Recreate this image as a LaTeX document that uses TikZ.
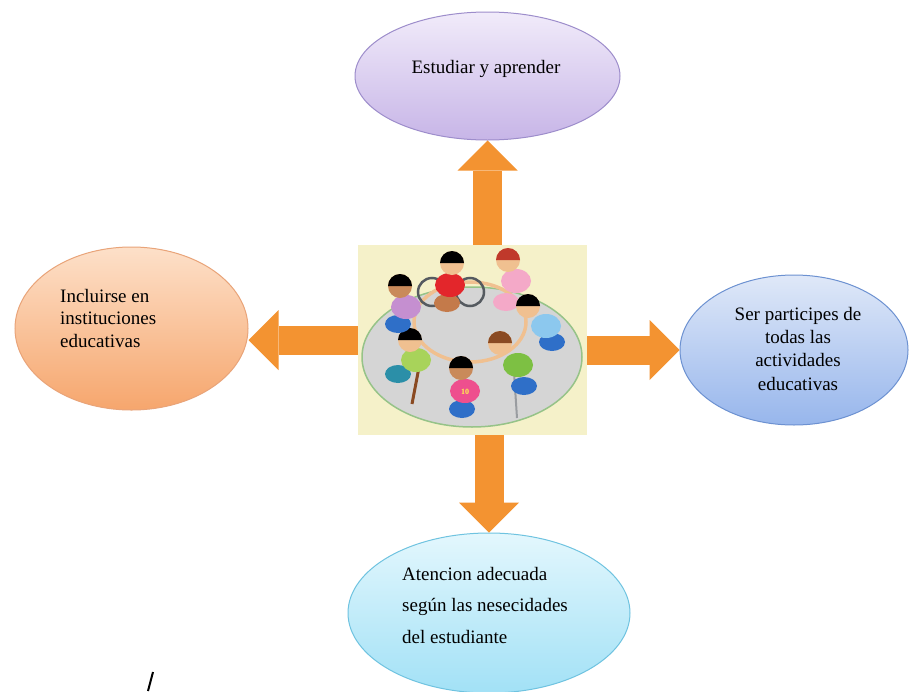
\documentclass[tikz,border=0pt]{standalone}
\usepackage{fontspec}
\setmainfont{Liberation Serif}
\usetikzlibrary{shapes.geometric,arrows.meta,positioning}

\definecolor{purpletop}{HTML}{F1EBFA}
\definecolor{purplebot}{HTML}{C7B5E7}
\definecolor{purpleline}{HTML}{9D8DCB}
\definecolor{peachtop}{HTML}{FDE0C9}
\definecolor{peachbot}{HTML}{F6A66D}
\definecolor{peachline}{HTML}{E9A479}
\definecolor{bluetop}{HTML}{DFE8F8}
\definecolor{bluebot}{HTML}{97B6EC}
\definecolor{blueline}{HTML}{6C91D1}
\definecolor{cyantop}{HTML}{E3F7FD}
\definecolor{cyanbot}{HTML}{A2E1F6}
\definecolor{cyanline}{HTML}{6FC3E0}
\definecolor{arrorange}{HTML}{F39331}
\definecolor{imgyellow}{HTML}{F5F1C9}
\definecolor{ringgrey}{HTML}{D5D5D5}
\definecolor{ringgreen}{HTML}{96C388}
\definecolor{skin}{HTML}{F0C090}
\definecolor{skindark}{HTML}{C98A5A}
\definecolor{chairgrey}{HTML}{555A60}
\definecolor{kidred}{HTML}{E3262B}
\definecolor{kidpink}{HTML}{F4A9C8}
\definecolor{kidpinkb}{HTML}{EE4F8E}
\definecolor{kidlblue}{HTML}{8CC8EE}
\definecolor{kidgreen}{HTML}{7DC043}
\definecolor{kidgreenb}{HTML}{A8D35A}
\definecolor{kidpurple}{HTML}{C58FD0}
\definecolor{kidblue}{HTML}{2F6FC8}
\definecolor{kidteal}{HTML}{2B8FA8}
\definecolor{kidbrownp}{HTML}{C47A4A}
\definecolor{kidbrown}{HTML}{8A4A22}
\definecolor{kidredhair}{HTML}{C0392B}

\tikzset{
  bubble/.style={ellipse, draw, line width=1pt, inner sep=0pt},
  bubbletext/.style={inner sep=0pt, font=\fontsize{19}{22.5}\selectfont},
  bigarrow/.style={draw=arrorange, line width=29pt,
    -{Triangle[width=60pt,length=30pt,line width=0pt]}}
}

\begin{document}
\begin{tikzpicture}[x=1pt,y=-1pt]
  \useasboundingbox (0,0) rectangle (910,691);
  \fill[white] (0,0) rectangle (910,691);
  % Define nodes
  \node[bubble, minimum width=265pt, minimum height=128pt,
        top color=purpletop, bottom color=purplebot, draw=purpleline] (study) at (487.5,76) {};
  \node[bubble, minimum width=233pt, minimum height=163pt,
        top color=peachtop, bottom color=peachbot, draw=peachline] (include) at (131.5,328.5) {};
  \node[bubble, minimum width=228pt, minimum height=150pt,
        top color=bluetop, bottom color=bluebot, draw=blueline] (share) at (794,350) {};
  \node[bubble, minimum width=282pt, minimum height=160pt,
        top color=cyantop, bottom color=cyanbot, draw=cyanline] (care) at (489,613) {};
  \node[bubbletext, anchor=base] (studytxt) at (486,73) {Estudiar y aprender};
  \node[bubbletext, anchor=north west, align=left] (includetxt) at (60,289)
    {Incluirse en\\instituciones\\educativas};
  \node[bubbletext, anchor=north, align=center, font=\fontsize{19}{23.3}\selectfont]
    (sharetxt) at (798,307) {Ser participes de\\todas las\\actividades\\educativas};
  \node[bubbletext, anchor=north west, align=left, font=\fontsize{19}{31.5}\selectfont]
    (caretxt) at (402,567) {Atencion adecuada\\según las nesecidades\\del estudiante};
  \node[inner sep=0pt, minimum width=229pt, minimum height=190pt] (img) at (472.5,340) {};
  % Connect nodes
  \draw[bigarrow] (study.south |- img.north) -- (study.south);
  \draw[bigarrow] (img.west) -- (img.west -| include.east);
  \draw[bigarrow] (img.east |- share.west) -- (share.west);
  \draw[bigarrow] (care.north |- img.south) -- (care.north);
  % Centre picture: children round a circle
  \fill[imgyellow] (img.north west) rectangle (img.south east);
  \node[ellipse, fill=ringgrey, draw=ringgreen, line width=1.5pt,
        minimum width=220pt, minimum height=140pt] (ring) at (472,357) {};
  \draw[skin, line width=3.5pt] (470,322) ellipse (56 and 40);
  \draw[chairgrey, line width=2.5pt] (432,292) circle (14) (470,292) circle (14);
  \draw[kidbrown, line width=3pt] (420,362) -- (412,404);
  \draw[chairgrey!60, line width=2pt] (514,372) -- (517,418);
  \foreach \hx/\hy/\bx/\by/\px/\py/\shirt/\hair/\pants/\face in {
      452/263/450/285/447/303/kidred/black/kidbrownp/skin,
      508/260/516/281/506/302/kidpink/kidredhair/kidpink/skin,
      528/306/546/326/552/342/kidlblue/black/kidblue/skin,
      500/343/518/365/524/386/kidgreen/kidbrown/kidblue/skin,
      461/368/465/391/462/409/kidpinkb/black/kidblue/skindark,
      410/340/416/360/398/374/kidgreenb/black/kidteal/skin,
      400/286/406/307/398/324/kidpurple/black/kidblue/skindark}
  {
    \fill[\pants] (\px,\py) ellipse (13 and 9);
    \fill[\shirt] (\bx,\by) ellipse (15 and 12);
    \fill[\face] (\hx,\hy) circle (12);
    \fill[\hair] (\hx-12,\hy) arc[start angle=180, end angle=360, radius=12] -- cycle;
  }
  \node[inner sep=0pt, text=yellow!70!white, font=\fontsize{8}{8}\selectfont\bfseries]
    (ten) at (465,392) {10};
  % stray mark
  \draw[line width=2pt] (153,672) -- (148,691);
\end{tikzpicture}
\end{document}
